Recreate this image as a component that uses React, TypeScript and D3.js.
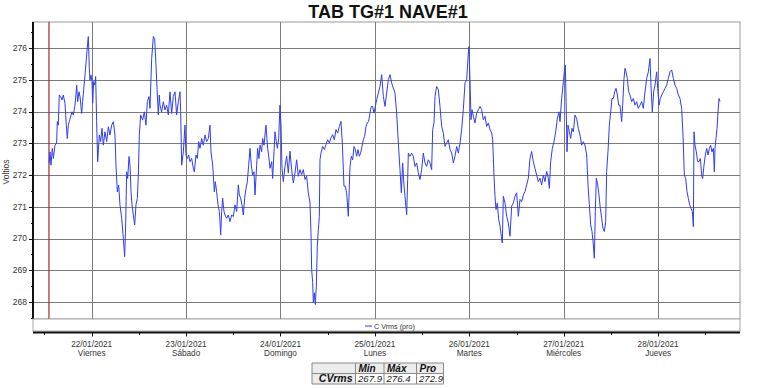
import React from "react";
import * as d3 from "d3";

// ---- data ----
const TITLE = "TAB TG#1 NAVE#1";
const Y_LABEL = "Voltios";
const SERIES_NAME = "C Vrms (pro)";
// hours counted from 21/01/2021 00:00
const X_DOMAIN = [9.08, 188.82];
const Y_DOMAIN = [267.465, 276.819];
const dayTickHours = [24, 48, 72, 96, 120, 144, 168];
const halfDayTickHours = [12, 36, 60, 84, 108, 132, 156, 180];
const dateLabels = ["22/01/2021", "23/01/2021", "24/01/2021", "25/01/2021", "26/01/2021", "27/01/2021", "28/01/2021"];
const dayNames = ["Viernes", "Sábado", "Domingo", "Lunes", "Martes", "Miércoles", "Jueves"];
const yTicks = [268, 269, 270, 271, 272, 273, 274, 275, 276];
const yMinorTicks = [267.5, 268.5, 269.5, 270.5, 271.5, 272.5, 273.5, 274.5, 275.5, 276.5];
const statHeaders = ["Min", "Máx", "Pro"];
const statRowLabel = "CVrms";
const statValues = ["267.9", "276.4", "272.9"];

const hours = [
  13.14, 13.40, 13.65, 13.99, 14.25, 14.67, 15.09, 15.26, 15.51, 15.77, 16.11, 16.45, 16.79, 17.21, 17.55, 17.80,
  18.06, 18.31, 18.65, 18.99, 19.33, 19.75, 20.00, 20.18, 20.43, 20.77, 21.03, 21.45, 21.70, 21.96, 22.30, 22.72,
  22.97, 23.14, 23.40, 23.57, 23.82, 24.08, 24.25, 24.50, 24.76, 25.01, 25.26, 25.52, 25.94, 26.28, 26.62, 26.96,
  27.38, 27.81, 28.23, 28.65, 29.08, 29.50, 29.92, 30.18, 30.52, 30.86, 31.19, 31.62, 32.04, 32.38, 32.64, 32.89,
  33.15, 33.49, 33.74, 34.00, 34.25, 34.59, 34.93, 35.26, 35.60, 35.86, 36.11, 36.45, 36.96, 37.38, 37.80, 38.14,
  38.57, 38.82, 39.25, 39.67, 40.01, 40.35, 40.69, 40.94, 41.19,
  41.36, 41.79, 42.21, 42.63, 43.06, 43.48, 43.91, 44.33, 44.75, 45.18, 45.60, 46.03, 46.45, 46.62, 46.87, 47.30,
  47.72, 47.97, 48.31, 48.65, 48.99, 49.42, 49.84, 50.09, 50.52, 50.86, 51.20, 51.53, 51.96, 52.38, 52.81, 53.23,
  53.65, 54.08, 54.33, 54.76, 54.92, 55.18, 55.43, 55.77, 56.11, 56.45, 56.62, 56.79, 57.04, 57.30, 57.64, 57.89,
  58.31, 58.74, 59.16, 59.59, 60.01, 60.43, 60.86, 61.28, 61.54, 61.87, 62.21, 62.55, 62.89, 63.23, 63.57, 63.91,
  64.25, 64.58, 64.92, 65.26, 65.52, 65.94, 66.19, 66.53, 66.79, 67.21, 67.46, 67.80, 68.14, 68.31, 68.48, 68.74,
  69.08, 69.33, 69.76, 70.01, 70.35, 70.60, 70.94, 71.20, 71.54, 71.87, 72.13, 72.38, 72.72,
  73.14, 73.57, 73.99, 74.41, 74.84, 75.26, 75.68, 76.11, 76.53, 76.96, 77.38, 77.80, 78.23, 78.65, 79.07, 79.50,
  79.75, 79.92, 80.18, 80.35, 80.60, 80.86, 81.11, 81.36, 81.62, 81.87, 82.04, 82.30, 82.72, 83.15, 83.57, 83.99,
  84.42, 84.84, 85.26, 85.69, 86.11, 86.54, 86.96, 87.38, 87.72, 88.14, 88.48, 88.82, 89.24, 89.50, 89.67, 90.01,
  90.35, 90.69, 91.02, 91.36, 91.70, 92.04, 92.38, 92.72, 93.06, 93.40, 93.74, 94.07, 94.41, 94.75, 95.09, 95.43,
  95.77, 96.11, 96.45, 96.87, 97.29, 97.72, 98.14, 98.57, 98.99, 99.41, 99.84, 100.26, 100.68, 101.11, 101.53, 101.96,
  102.38, 102.72, 103.06, 103.40,
  103.65, 104.08, 104.33, 104.50, 104.92, 105.35, 105.77, 106.19, 106.62, 107.04, 107.47, 107.89, 108.31, 108.74, 109.16, 109.58,
  110.01, 110.43, 110.69, 111.03, 111.28, 111.70, 112.13, 112.55, 112.98, 113.40, 113.82, 114.25, 114.67, 115.09, 115.52, 115.94,
  116.36, 116.79, 117.21, 117.64, 118.06, 118.48, 118.91, 119.33, 119.75, 119.92, 120.18, 120.43, 120.69, 121.03, 121.45, 121.87,
  122.30, 122.72, 123.14, 123.57, 123.99, 124.42, 124.84, 125.26, 125.69, 125.94, 126.28, 126.53, 126.79, 127.13, 127.47, 127.81,
  128.14, 128.40, 128.65, 129.08, 129.50, 129.92, 130.35, 130.77, 131.20, 131.62, 132.04, 132.47, 132.89,
  133.31, 133.73, 134.16, 134.58, 135.01, 135.43, 135.85, 136.28, 136.70, 137.12, 137.55, 137.97, 138.40, 138.82, 139.24, 139.67,
  140.09, 140.35, 140.68, 141.11, 141.53, 141.96, 142.38, 142.80, 143.06, 143.48, 143.91, 144.16, 144.41, 144.58, 144.84, 145.09,
  145.43, 145.77, 146.11, 146.45, 146.87, 147.29, 147.72, 148.14, 148.57, 148.99, 149.41, 149.84, 150.18, 150.52, 150.86, 151.20,
  151.53, 151.79, 152.04, 152.30, 152.64, 152.97, 153.31, 153.65, 153.99, 154.33, 154.67, 154.92, 155.26, 155.60, 155.94, 156.28,
  156.62, 156.96, 157.30, 157.64, 157.98, 158.31, 158.74, 158.99, 159.33, 159.59, 159.84, 160.18, 160.52,
  160.85, 161.28, 161.70, 162.13, 162.55, 162.97, 163.40, 163.82, 164.25, 164.67, 165.09, 165.52, 165.94, 166.19, 166.53, 166.87,
  167.21, 167.64, 167.89, 168.23, 168.57, 168.91, 169.33, 169.76, 170.18, 170.60, 171.03, 171.45, 171.88, 172.30, 172.72, 173.15,
  173.57, 173.99, 174.33, 174.67, 175.01, 175.35, 175.69, 176.03, 176.37, 176.71, 176.96, 177.13, 177.38, 177.72, 178.06, 178.40,
  178.74, 179.08, 179.33, 179.67, 180.01, 180.35, 180.69, 181.03, 181.36, 181.70, 182.04, 182.30, 182.47, 182.72, 182.98, 183.23,
  183.49, 183.74,
];

const volts = [
  272.37, 272.73, 272.31, 272.84, 272.52, 272.94, 273.00, 273.68, 273.57, 274.52, 274.47, 274.36, 274.52, 274.26, 273.57, 273.15,
  273.57, 273.68, 273.84, 273.99, 273.89, 274.20, 274.52, 274.83, 274.31, 274.62, 274.47, 273.94, 274.31, 274.68, 275.15, 275.78,
  276.15, 276.36, 275.36, 274.99, 275.15, 274.94, 274.26, 274.94, 274.83, 275.10, 273.68, 272.42, 273.26, 273.05, 273.47, 272.94,
  273.36, 273.05, 273.52, 273.26, 273.57, 273.68, 273.26, 272.31, 271.47, 271.68, 271.06, 270.64, 270.01, 269.43, 270.43, 272.10,
  271.89, 272.58, 272.31, 271.47, 271.06, 270.74, 270.43, 271.06, 271.26, 272.00, 273.26, 273.89, 273.73, 273.99, 273.57, 274.31,
  274.47, 274.10, 275.67, 276.36, 276.30, 275.46, 274.52, 273.89, 274.52,
  274.20, 273.99, 274.31, 274.05, 274.20, 273.89, 274.62, 273.94, 274.47, 274.62, 273.89, 274.31, 274.62, 273.99, 272.31, 272.73,
  273.57, 272.63, 272.52, 272.63, 272.42, 272.52, 272.21, 272.10, 272.63, 272.52, 273.05, 272.84, 273.15, 272.94, 273.26, 273.05,
  273.15, 273.57, 272.73, 272.31, 272.00, 271.47, 271.79, 271.47, 271.06, 270.85, 270.53, 270.11, 270.85, 271.27, 270.85, 270.74,
  270.64, 270.74, 270.53, 270.74, 270.69, 271.06, 270.85, 271.69, 271.37, 271.27, 271.06, 270.74, 271.27, 271.58, 271.79, 272.31,
  272.84, 272.31, 272.00, 272.10, 271.37, 272.31, 272.84, 272.52, 272.94, 272.73, 273.15, 272.94, 273.36, 273.57, 273.26, 272.84,
  272.52, 272.21, 272.42, 271.89, 272.73, 273.36, 273.05, 272.84, 273.15, 274.20, 273.57, 272.21, 271.79,
  272.27, 272.59, 272.06, 272.75, 272.17, 271.75, 272.06, 272.48, 271.96, 272.17, 272.01, 272.17, 271.86, 271.96, 271.44, 271.12,
  270.18, 269.03, 268.61, 267.98, 268.29, 267.92, 268.50, 269.76, 270.28, 270.70, 272.48, 272.69, 272.90, 272.80, 272.96, 273.11,
  273.01, 273.17, 273.27, 273.11, 273.43, 273.32, 273.53, 273.69, 273.01, 271.65, 271.65, 271.44, 270.70, 271.65, 272.27, 272.59,
  272.48, 272.90, 272.80, 272.59, 272.80, 272.59, 272.69, 272.90, 273.11, 273.22, 273.53, 273.64, 273.69, 273.95, 274.16, 274.16,
  273.95, 274.16, 274.37, 274.58, 274.79, 275.16, 274.48, 274.16, 274.58, 275.00, 275.16, 274.90, 274.74, 274.58, 273.95, 273.01,
  272.17, 271.44, 272.38, 271.65,
  271.33, 270.75, 271.86, 272.69, 272.59, 272.69, 272.59, 272.27, 272.38, 272.07, 271.86, 272.17, 272.69, 272.38, 272.27, 272.48,
  272.38, 272.17, 273.43, 273.64, 274.48, 274.79, 274.69, 274.16, 273.53, 273.32, 272.90, 273.01, 273.11, 272.80, 272.69, 272.38,
  272.59, 272.90, 272.69, 273.01, 273.43, 274.06, 274.90, 275.00, 275.84, 276.05, 275.00, 273.74, 274.06, 273.85, 273.64, 273.95,
  274.06, 274.16, 274.06, 273.74, 273.85, 273.53, 273.64, 273.43, 273.32, 273.11, 271.96, 271.33, 270.91, 271.12, 270.60, 270.39,
  270.07, 269.86, 271.33, 271.12, 270.70, 270.49, 270.07, 271.02, 271.12, 271.33, 271.44, 270.70, 271.23,
  271.16, 271.37, 271.48, 271.69, 271.90, 272.53, 272.74, 272.42, 272.21, 272.00, 271.79, 271.90, 271.69, 272.00, 271.79, 272.11,
  271.90, 271.58, 272.42, 272.84, 273.05, 273.36, 273.78, 273.99, 273.68, 274.41, 274.94, 275.25, 275.46, 274.52, 272.73, 273.57,
  273.36, 273.15, 273.47, 273.36, 273.89, 273.78, 273.47, 273.26, 272.94, 273.05, 272.94, 272.63, 271.69, 271.06, 270.43, 270.22,
  269.80, 269.38, 270.85, 271.90, 271.69, 271.37, 270.95, 270.64, 270.32, 270.22, 270.53, 272.11, 272.74, 273.57, 273.99, 274.41,
  274.41, 274.62, 274.73, 274.52, 274.20, 274.20, 273.68, 274.20, 275.04, 275.36, 275.25, 275.04, 274.62,
  274.52, 274.31, 274.41, 274.20, 274.31, 274.10, 274.20, 274.31, 274.10, 274.62, 275.04, 275.25, 275.67, 274.83, 273.99, 274.62,
  274.83, 275.25, 274.73, 274.20, 274.41, 274.52, 274.62, 274.73, 274.83, 275.04, 275.25, 275.31, 275.04, 274.83, 274.73, 274.52,
  274.41, 274.10, 273.26, 272.00, 271.89, 271.47, 271.26, 271.06, 270.95, 270.85, 270.37, 273.36, 272.94, 272.73, 272.42, 272.42,
  272.52, 272.00, 271.89, 272.31, 272.63, 272.84, 272.63, 272.84, 272.94, 272.73, 272.84, 272.10, 272.84, 273.15, 273.47, 273.99,
  274.41, 274.31,
];

const FONT = "'Liberation Sans', Arial, Helvetica, sans-serif";

export default function App() {
  const W = 762;
  const H = 388;
  const L = 33;
  const R = 740;
  const T = 22;
  const B = 319;
  const AXIS_Y = 332.5;

  const x = d3.scaleLinear().domain(X_DOMAIN).range([L, R]);
  const y = d3.scaleLinear().domain(Y_DOMAIN).range([B, T]);

  const pts: [number, number][] = hours.map((h, i) => [h, volts[i]]);
  const line = d3
    .line<[number, number]>()
    .x((d) => x(d[0]))
    .y((d) => y(d[1]));

  const gridColor = "#7a7a7a";

  // table geometry
  const colX = [312, 355.5, 384, 416.5, 443.5];
  const rowY = [363, 373.5, 384];

  return (
    <svg
      width={W}
      height={H}
      viewBox={`0 0 ${W} ${H}`}
      style={{ position: "absolute", left: 0, top: 0, background: "#fff" }}
      fontFamily={FONT}
    >
      <rect x={0} y={0} width={W} height={H} fill="#fff" />
      <text x={388} y={18} textAnchor="middle" fontSize={18} fontWeight="bold" fill="#111">
        {TITLE}
      </text>

      {/* plot background / frame */}
      <rect x={L} y={T} width={R - L} height={B - T} fill="#fff" stroke="#9a9a9a" strokeWidth={1} />

      {/* horizontal grid */}
      {yTicks.map((v) => (
        <line key={"hg" + v} x1={L} x2={R} y1={Math.round(y(v)) + 0.5} y2={Math.round(y(v)) + 0.5} stroke={gridColor} strokeWidth={1} />
      ))}
      {/* vertical grid */}
      {dayTickHours.map((h) => (
        <line key={"vg" + h} x1={Math.round(x(h)) + 0.5} x2={Math.round(x(h)) + 0.5} y1={T} y2={B} stroke={gridColor} strokeWidth={1} />
      ))}

      {/* data start marker */}
      <line x1={x(hours[0])} x2={x(hours[0])} y1={T} y2={B} stroke="#a8262b" strokeWidth={1.2} />

      {/* series */}
      <path d={line(pts) || ""} fill="none" stroke="#2f3df2" strokeWidth={1} strokeLinejoin="round" />

      {/* left axis */}
      <line x1={L} x2={L} y1={T} y2={B} stroke="#111" strokeWidth={2} />
      {yTicks.map((v) => (
        <g key={"yt" + v}>
          <line x1={L - 4} x2={L} y1={Math.round(y(v)) + 0.5} y2={Math.round(y(v)) + 0.5} stroke="#111" strokeWidth={1} />
          <text x={L - 6} y={y(v)} dy="0.35em" textAnchor="end" fontSize={8.5} fill="#333">
            {v}
          </text>
        </g>
      ))}
      {yMinorTicks.map((v) =>
        y(v) > T && y(v) < B ? (
          <line key={"ym" + v} x1={L - 2} x2={L} y1={Math.round(y(v)) + 0.5} y2={Math.round(y(v)) + 0.5} stroke="#111" strokeWidth={1} />
        ) : null
      )}
      <text transform={`translate(8.5,172) rotate(-90)`} textAnchor="middle" fontSize={8.5} fill="#333">
        {Y_LABEL}
      </text>

      {/* legend strip */}
      <rect x={L} y={B} width={R - L} height={12} fill="#fff" stroke="#a8a8a8" strokeWidth={1} />
      <line x1={365} x2={372} y1={326} y2={326} stroke="#2f3df2" strokeWidth={1} />
      <text x={374} y={326} dy="0.35em" fontSize={7.2} fill="#333">
        {SERIES_NAME}
      </text>

      {/* bottom axis */}
      <line x1={L} x2={R} y1={AXIS_Y} y2={AXIS_Y} stroke="#111" strokeWidth={2} />
      {dayTickHours.map((h, i) => (
        <g key={"xt" + h}>
          <line x1={Math.round(x(h)) + 0.5} x2={Math.round(x(h)) + 0.5} y1={AXIS_Y} y2={AXIS_Y + 4} stroke="#111" strokeWidth={1} />
          <text x={x(h)} y={346.5} textAnchor="middle" fontSize={8.2} fill="#333">
            {dateLabels[i]}
          </text>
          <text x={x(h)} y={356} textAnchor="middle" fontSize={8.2} fill="#333">
            {dayNames[i]}
          </text>
        </g>
      ))}
      {halfDayTickHours.map((h) =>
        x(h) > L && x(h) < R ? (
          <line key={"xm" + h} x1={Math.round(x(h)) + 0.5} x2={Math.round(x(h)) + 0.5} y1={AXIS_Y} y2={AXIS_Y + 2.5} stroke="#111" strokeWidth={1} />
        ) : null
      )}

      {/* stats table */}
      <g>
        <rect x={colX[0]} y={rowY[0]} width={colX[4] - colX[0]} height={rowY[1] - rowY[0]} fill="#ececec" />
        <rect x={colX[0]} y={rowY[1]} width={colX[1] - colX[0]} height={rowY[2] - rowY[1]} fill="#ececec" />
        {colX.map((cx, i) => (
          <line key={"tc" + i} x1={cx} x2={cx} y1={rowY[0]} y2={rowY[2]} stroke="#8a8a8a" strokeWidth={1} />
        ))}
        {rowY.map((ry, i) => (
          <line key={"tr" + i} x1={colX[0]} x2={colX[4]} y1={ry} y2={ry} stroke="#8a8a8a" strokeWidth={1} />
        ))}
        {statHeaders.map((s, i) => (
          <text key={"th" + i} x={colX[i + 1] + 3} y={rowY[1] - 2} fontSize={10} fontWeight="bold" fontStyle="italic" fill="#111">
            {s}
          </text>
        ))}
        <text x={colX[1] - 3} y={rowY[2] - 2} textAnchor="end" fontSize={10.5} fontWeight="bold" fontStyle="italic" fill="#111">
          {statRowLabel}
        </text>
        {statValues.map((s, i) => (
          <text key={"tv" + i} x={colX[i + 1] + 2.5} y={rowY[2] - 2} fontSize={9.6} fontStyle="italic" fill="#222">
            {s}
          </text>
        ))}
      </g>
    </svg>
  );
}
